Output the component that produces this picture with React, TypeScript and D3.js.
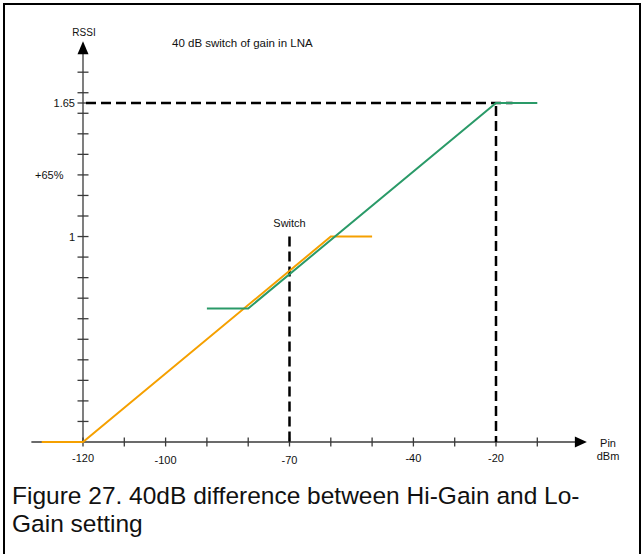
import React from 'react';
import * as d3 from 'd3';

// ---- data ----
const xTickValues = [-120, -110, -100, -90, -80, -70, -60, -50, -40, -30, -20, -10];
const xTickLabels = [-120, -100, -70, -40, -20];
const yTickValues = [0.1, 0.2, 0.3, 0.4, 0.5, 0.6, 0.7, 0.8, 0.9, 1.0, 1.1, 1.2, 1.3, 1.4, 1.5, 1.6, 1.65, 1.7, 1.8];
const yTickLabels = [1.65, 1];
const hiGainPin = [-130, -120, -60, -50];
const hiGainRssi = [0, 0, 1, 1];
const loGainPin = [-90, -80, -20, -10];
const loGainRssi = [0.65, 0.65, 1.65, 1.65];
const switchPin = -70;
const switchRssi = 1;
const satPin = -20;
const satRssi = 1.65;
const xExtent = [-132.5, 2];
const yExtent = [0, 1.95];

const FONT = "'Liberation Sans', Arial, sans-serif";

export default function App() {
  const x = d3.scaleLinear().domain([-120, -20]).range([83, 496]);
  const y = d3.scaleLinear().domain([0, 1.65]).range([442, 103]);
  const line = d3
    .line<[number, number]>()
    .x((d) => x(d[0]))
    .y((d) => y(d[1]));
  const hi: [number, number][] = hiGainPin.map((p, i) => [p, hiGainRssi[i]]);
  const lo: [number, number][] = loGainPin.map((p, i) => [p, loGainRssi[i]]);
  const x0 = x(xExtent[0]);
  const x1 = x(xExtent[1]);
  const y0 = y(yExtent[0]);
  const y1 = y(yExtent[1]);
  const ax = x(-120);
  const axisColor = '#3a3a3a';
  const dash = '10 5';

  return (
    <svg
      width={643}
      height={554}
      style={{ position: 'absolute', left: 0, top: 0, background: '#fff' }}
      fontFamily={FONT}
    >
      <rect x={4} y={4} width={636} height={560} fill="#fff" stroke="#000" strokeWidth={2} />

      {/* title */}
      <text x={172} y={47} fontSize={11.5} fill="#111">40 dB switch of gain in LNA</text>
      <text x={84} y={36} fontSize={10} textAnchor="middle" fill="#111">RSSI</text>

      {/* axes */}
      <line x1={x0} y1={y(0)} x2={x1 - 10} y2={y(0)} stroke={axisColor} strokeWidth={1.3} />
      <path d={`M${x1},${y(0)} L${x1 - 12},${y(0) - 5.5} L${x1 - 12},${y(0) + 5.5} Z`} fill="#000" />
      <line x1={ax} y1={y0} x2={ax} y2={y1 + 10} stroke={axisColor} strokeWidth={1.3} />
      <path d={`M${ax},${y1} L${ax - 5.5},${y1 + 13} L${ax + 5.5},${y1 + 13} Z`} fill="#000" />

      {xTickValues.map((v) => (
        <line key={'xt' + v} x1={x(v)} x2={x(v)} y1={y(0) - 4.5} y2={y(0) + 4.5} stroke={axisColor} strokeWidth={1.3} />
      ))}
      {yTickValues.map((v) => (
        <line key={'yt' + v} x1={ax - 5.5} x2={ax + 5.5} y1={y(v)} y2={y(v)} stroke={axisColor} strokeWidth={1.3} />
      ))}
      {xTickLabels.map((v) => (
        <text key={'xl' + v} x={x(v)} y={v === -100 || v === -70 ? 464 : 462} fontSize={11} textAnchor="middle" fill="#111">
          {v}
        </text>
      ))}
      {yTickLabels.map((v) => (
        <text key={'yl' + v} x={ax - 8} y={y(v) + 4} fontSize={11} textAnchor="end" fill="#111">
          {String(v)}
        </text>
      ))}
      <text x={35} y={y(1.3) + 4} fontSize={11} fill="#111">+65%</text>
      <text x={608} y={447} fontSize={11} textAnchor="middle" fill="#111">Pin</text>
      <text x={608} y={460} fontSize={11} textAnchor="middle" fill="#111">dBm</text>

      {/* dashed guides */}
      <line x1={ax + 3} y1={y(satRssi)} x2={x(-16)} y2={y(satRssi)} stroke="#000" strokeWidth={2.5} strokeDasharray={dash} />
      <line x1={x(satPin)} y1={y(satRssi) + 3} x2={x(satPin)} y2={y(0)} stroke="#000" strokeWidth={2.5} strokeDasharray={dash} />
      <line x1={x(switchPin)} y1={y(switchRssi)} x2={x(switchPin)} y2={y(0)} stroke="#000" strokeWidth={2.5} strokeDasharray={dash} />
      <text x={x(switchPin)} y={y(switchRssi) - 10} fontSize={11} textAnchor="middle" fill="#111">Switch</text>

      {/* curves */}
      <path d={line(hi) || ''} fill="none" stroke="#f5a000" strokeWidth={2} />
      <path d={line(lo) || ''} fill="none" stroke="#2a9a68" strokeWidth={2} />

      {/* caption */}
      <text x={12} y={504} fontSize={24.5} fill="#111">Figure 27. 40dB difference between Hi-Gain and Lo-</text>
      <text x={12} y={532} fontSize={24.5} fill="#111">Gain setting</text>
    </svg>
  );
}
